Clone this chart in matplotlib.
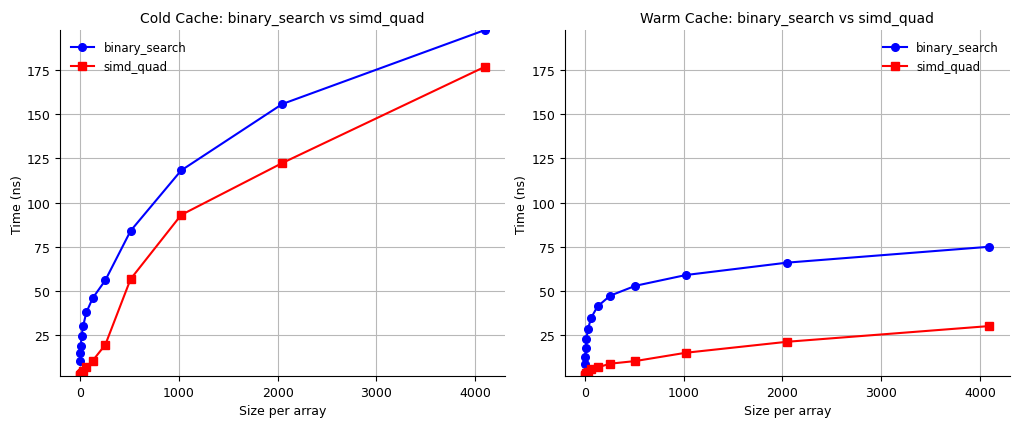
import numpy as np
import matplotlib
matplotlib.use('Agg')
import matplotlib.pyplot as plt

sizes = [2, 4, 8, 16, 32, 64, 128, 256, 512, 1024, 2048, 4096]

cold_binary = [10.5, 14.6, 19.0, 24.6, 30.3, 37.8, 45.9, 56.0, 84.0, 118.2, 155.8, 197.6]
cold_simd = [1.8, 2.2, 2.8, 3.5, 4.8, 7.0, 10.5, 19.5, 56.7, 93.0, 122.4, 176.8]

warm_binary = [8.6, 12.7, 17.8, 22.9, 28.6, 34.8, 41.2, 47.3, 52.9, 59.0, 66.0, 75.0]
warm_simd = [2.0, 2.5, 3.0, 3.5, 4.2, 5.8, 6.7, 8.8, 10.3, 15.0, 21.2, 30.1]

panels = [
    ('Cold Cache: binary_search vs simd_quad', cold_binary, cold_simd, 'upper left'),
    ('Warm Cache: binary_search vs simd_quad', warm_binary, warm_simd, 'upper right'),
]

all_vals = cold_binary + cold_simd + warm_binary + warm_simd
ymin, ymax = min(all_vals), max(all_vals)

fig, axes = plt.subplots(1, 2, figsize=(10.24, 4.27), dpi=100)

for ax, (title, binary, simd, loc) in zip(axes, panels):
    ax.plot(sizes, binary, marker='o', color='blue', markersize=5.5, label='binary_search')
    ax.plot(sizes, simd, marker='s', color='red', markersize=5.5, label='simd_quad')
    ax.set_title(title, fontsize=10)
    ax.set_xlabel('Size per array', fontsize=9)
    ax.set_ylabel('Time (ns)', fontsize=9, labelpad=2)
    ax.set_ylim(ymin, ymax)
    ax.set_xticks([0, 1000, 2000, 3000, 4000])
    ax.set_yticks([25, 50, 75, 100, 125, 150, 175])
    ax.tick_params(labelsize=9)
    ax.grid(True, color='#b8b8b8')
    ax.spines['top'].set_visible(False)
    ax.spines['right'].set_visible(False)
    ax.legend(loc=loc, frameon=False, fontsize=8.5)

plt.subplots_adjust(left=0.0586, right=0.986, bottom=0.117, top=0.927, wspace=0.135)
plt.savefig('out.png', dpi=100)
